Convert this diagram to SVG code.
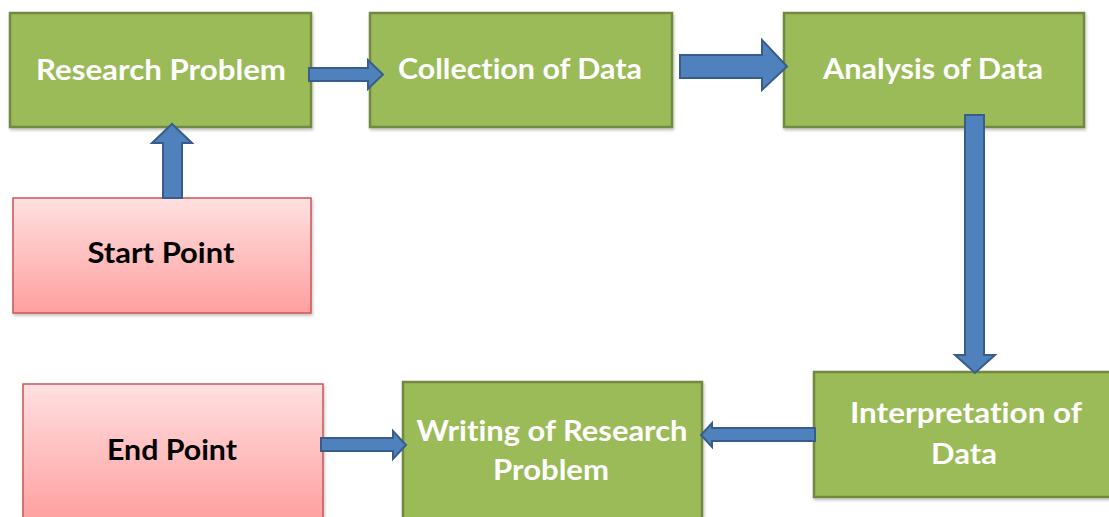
<svg xmlns="http://www.w3.org/2000/svg" width="1109" height="517" viewBox="0 0 1109 517">
<defs>
<linearGradient id="pink" x1="0" y1="0" x2="0" y2="1">
<stop offset="0" stop-color="#FFE0E0"/>
<stop offset="1" stop-color="#FF9F9F"/>
</linearGradient>
<filter id="sh" x="-5%" y="-5%" width="110%" height="115%">
<feDropShadow dx="1" dy="2" stdDeviation="1.5" flood-color="#000" flood-opacity="0.25"/>
</filter>
<style>
.g{fill:#9BBB59;stroke:#71893F;stroke-width:2.5}
.p{fill:url(#pink);stroke:#C9575A;stroke-width:1.5}
.a{fill:#4F81BD;stroke:#385D8A;stroke-width:2;stroke-linejoin:miter}
.tw,.tb{font-family:Lato,"Open Sans","Liberation Sans",sans-serif;font-weight:bold;font-size:28px;text-anchor:middle;font-variant-ligatures:none;font-feature-settings:"liga" 0}
.tw{fill:#FFFFFF}
.tb{fill:#000000}
</style>
</defs>
<rect width="1109" height="517" fill="#FFFFFF"/>
<g id="research-problem">
<rect class="g" x="10" y="13" width="301" height="114" filter="url(#sh)"/>
<text class="tw" x="161" y="80" textLength="250" lengthAdjust="spacingAndGlyphs">Research Problem</text>
</g>
<g id="collection-of-data">
<rect class="g" x="370" y="13" width="302" height="114" filter="url(#sh)"/>
<text class="tw" x="520" y="79" textLength="244" lengthAdjust="spacingAndGlyphs">Collection of Data</text>
</g>
<g id="analysis-of-data">
<rect class="g" x="784" y="13" width="300" height="114" filter="url(#sh)"/>
<text class="tw" x="933" y="79" textLength="220" lengthAdjust="spacingAndGlyphs">Analysis of Data</text>
</g>
<g id="start-point">
<rect class="p" x="13" y="198" width="298" height="115" filter="url(#sh)"/>
<text class="tb" x="161" y="263" textLength="147" lengthAdjust="spacingAndGlyphs">Start Point</text>
</g>
<g id="interpretation-of-data">
<rect class="g" x="814" y="372" width="300" height="125" filter="url(#sh)"/>
<text class="tw" x="966" y="423" textLength="232" lengthAdjust="spacingAndGlyphs">Interpretation of</text>
<text class="tw" x="964" y="464" textLength="66" lengthAdjust="spacingAndGlyphs">Data</text>
</g>
<g id="writing-of-research-problem">
<rect class="g" x="403" y="382" width="299" height="140" filter="url(#sh)"/>
<text class="tw" x="552" y="441" textLength="271" lengthAdjust="spacingAndGlyphs">Writing of Research</text>
<text class="tw" x="551" y="480" textLength="116" lengthAdjust="spacingAndGlyphs">Problem</text>
</g>
<g id="end-point">
<rect class="p" x="23" y="384" width="300" height="138" filter="url(#sh)"/>
<text class="tb" x="172" y="460" textLength="130" lengthAdjust="spacingAndGlyphs">End Point</text>
</g>
<g id="connectors">
<path class="a" d="M309,68 H368 V60 L383,74.5 L368,89 V81 H309 Z"/>
<path class="a" d="M680,55 H762 V40 L787,66.5 L762,90 V78 H680 Z"/>
<path class="a" d="M163,198 V143 H152 L172,124 L192,143 H182 V198 Z"/>
<path class="a" d="M965,115 V355 H955 L975,373 L995,355 H984 V115 Z"/>
<path class="a" d="M815,428 H712 V423 L701,435 L712,447 V441 H815 Z"/>
<path class="a" d="M321,438 H393 V431 L406,445 L393,459 V451 H321 Z"/>
</g>
</svg>
